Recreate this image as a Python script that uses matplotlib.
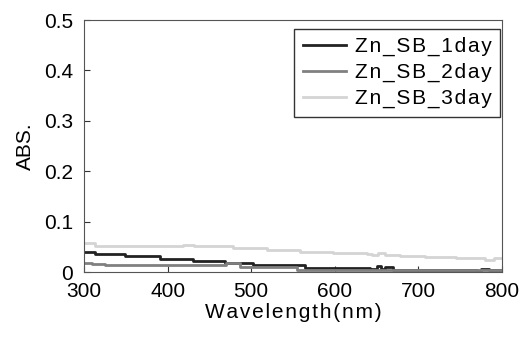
import matplotlib.pyplot as plt

wl_1day = [300, 313, 349, 391, 430, 469, 502, 564, 642, 650, 655, 660, 670, 770, 775, 785, 800]
abs_1day = [0.039, 0.036, 0.032, 0.026, 0.021, 0.017, 0.013, 0.007, 0.006, 0.011, 0.006, 0.010, 0.003, 0.001, 0.006, 0.003, 0.003]

wl_2day = [300, 310, 325, 470, 487, 555, 800]
abs_2day = [0.018, 0.016, 0.014, 0.017, 0.010, 0.004, 0.004]

wl_3day = [300, 313, 418, 432, 478, 519, 558, 598, 638, 645, 652, 660, 678, 708, 745, 780, 790, 800]
abs_3day = [0.058, 0.052, 0.054, 0.052, 0.048, 0.044, 0.040, 0.038, 0.036, 0.034, 0.038, 0.034, 0.032, 0.030, 0.027, 0.024, 0.028, 0.028]

plt.rcParams['font.family'] = ['Liberation Sans', 'DejaVu Sans']

fig = plt.figure(figsize=(5.26, 3.41), dpi=100)
ax = fig.add_axes([84 / 526, 1 - 272 / 341, 418 / 526, 252 / 341])

ax.plot(wl_1day, abs_1day, drawstyle='steps-post', color='#222222', lw=2, label='Zn_SB_1day')
ax.plot(wl_2day, abs_2day, drawstyle='steps-post', color='#808080', lw=2, label='Zn_SB_2day')
ax.plot(wl_3day, abs_3day, drawstyle='steps-post', color='#d4d4d4', lw=2, label='Zn_SB_3day')

ax.set_xlim(300, 800)
ax.set_ylim(0, 0.5)
ax.set_xticks([300, 400, 500, 600, 700, 800])
ax.set_yticks([0, 0.1, 0.2, 0.3, 0.4, 0.5])
ax.set_yticklabels(['0', '0.1', '0.2', '0.3', '0.4', '0.5'])
ax.tick_params(direction='in', labelsize=15, length=4, color='#333333')
ax.tick_params(axis='x', pad=7)
ax.tick_params(axis='y', pad=8)
for s in ax.spines.values():
    s.set_color('#555555')

sp = '\u200a'
ax.set_xlabel(sp.join('Wavelength(nm)'), fontsize=15, labelpad=2)
ax.set_ylabel('ABS.', fontsize=15, labelpad=6)

leg = ax.legend(loc='upper right', fontsize=15, frameon=True, fancybox=False,
                bbox_to_anchor=(0.995, 0.965), borderaxespad=0,
                handlelength=2.1, handletextpad=0.4,
                labelspacing=0.32, borderpad=0.4)
leg.get_frame().set_edgecolor('black')
leg.get_frame().set_linewidth(1.0)
for t in leg.get_texts():
    t.set_text(sp.join(t.get_text()))

fig.savefig('out.png', dpi=100)
